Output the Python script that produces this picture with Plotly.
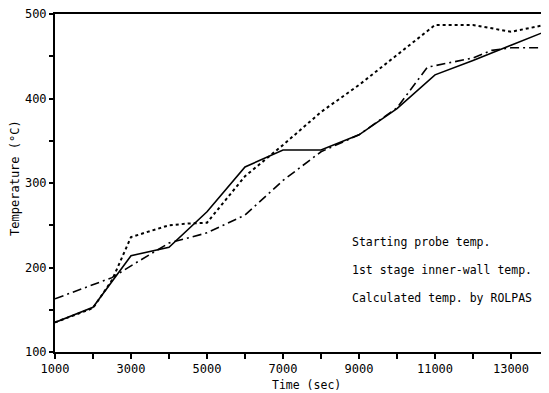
import plotly.graph_objects as go

time = [1000, 2000, 3000, 4000, 5000, 6000, 7000, 8000, 9000, 10000, 11000, 12000, 13000, 14000]
probe_temp = [135, 153, 214, 224, 266, 319, 339, 339, 357, 388, 428, 445, 463, 481]

time_wall = [1000, 2000, 2500, 3000, 4000, 4500, 5000, 6000, 7000, 8000, 9000, 10000, 11000, 12000, 12500, 13000, 14000]
wall_temp = [135, 152, 185, 236, 250, 252, 253, 308, 345, 384, 416, 451, 487, 487, 483, 479, 488]

time_calc = [1000, 2000, 2500, 3000, 4000, 5000, 6000, 7000, 8000, 9000, 10000, 10800, 11500, 12000, 12500, 13000, 14000]
calc_temp = [163, 180, 188, 202, 229, 241, 262, 303, 337, 357, 389, 437, 443, 448, 457, 460, 460]

legend_labels = ["Starting probe temp.", "1st stage inner-wall temp.", "Calculated temp. by ROLPAS"]

FONT = "DejaVu Sans Mono"

fig = go.Figure()
fig.add_trace(go.Scatter(x=time, y=probe_temp, mode="lines",
                         line=dict(color="black", width=1.6), name=legend_labels[0]))
fig.add_trace(go.Scatter(x=time_wall, y=wall_temp, mode="lines",
                         line=dict(color="black", width=2, dash="dot"), name=legend_labels[1]))
fig.add_trace(go.Scatter(x=time_calc, y=calc_temp, mode="lines",
                         line=dict(color="black", width=1.6, dash="9px,4px,2px,4px"), name=legend_labels[2]))

for i, lab in enumerate(legend_labels):
    fig.add_annotation(x=0.597, y=0.325 - i * 0.083, xref="paper", yref="paper",
                       text=lab, showarrow=False, xanchor="left", yanchor="middle",
                       font=dict(family=FONT, size=11.5, color="black"))

fig.add_annotation(x=0.51, y=-0.098, xref="paper", yref="paper", text="Time (sec)",
                   showarrow=False, xanchor="center", yanchor="middle",
                   font=dict(family=FONT, size=11.5, color="black"))
fig.add_annotation(x=-0.081, y=0.515, xref="paper", yref="paper", text="Temperature (°C)",
                   showarrow=False, xanchor="center", yanchor="middle", textangle=-90,
                   font=dict(family=FONT, size=12, color="black"))

fig.update_layout(
    width=541, height=385,
    margin=dict(l=47, r=0, t=6, b=41),
    paper_bgcolor="white", plot_bgcolor="white",
    showlegend=False,
    font=dict(family=FONT, color="black", size=12),
    xaxis=dict(range=[1000, 14000], tick0=1000, dtick=1000, ticklabelstep=2, tickformat="d",
               ticks="outside", ticklen=5, tickwidth=1.5, tickcolor="black",
               showline=True, linecolor="black", linewidth=2, mirror=True,
               showgrid=False, zeroline=False, automargin=False,
               ticklabeloverflow="allow",
               tickfont=dict(family=FONT, size=12)),
    yaxis=dict(range=[100, 500], tick0=100, dtick=50, ticklabelstep=2,
               ticks="outside", ticklen=4, tickwidth=1.5, tickcolor="black",
               showline=True, linecolor="black", linewidth=2,
               showgrid=False, zeroline=False, automargin=False,
               ticklabeloverflow="allow",
               tickfont=dict(family=FONT, size=12)),
)

fig.write_html("out.html")
